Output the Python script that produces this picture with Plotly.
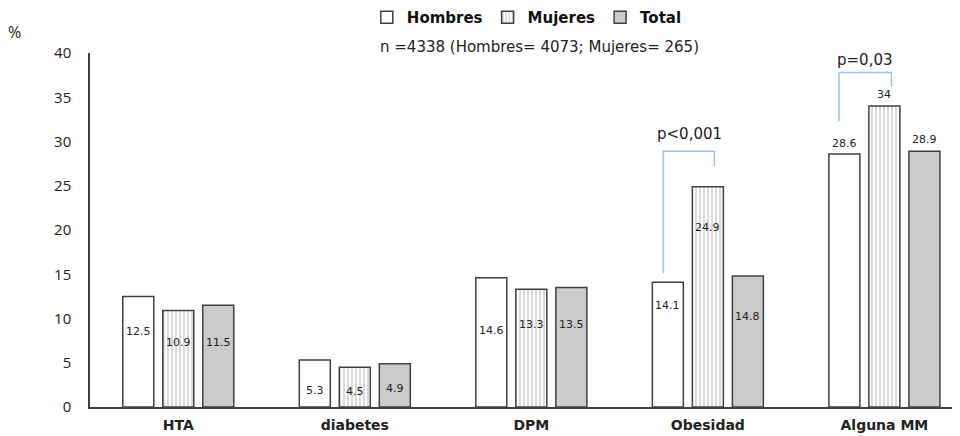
import plotly.graph_objects as go

# Datos
categorias = ["HTA", "diabetes", "DPM", "Obesidad", "Alguna MM"]
hombres = [12.5, 5.3, 14.6, 14.1, 28.6]
mujeres = [10.9, 4.5, 13.3, 24.9, 34]
total = [11.5, 4.9, 13.5, 14.8, 28.9]

# Altura (en %) donde aparece cada etiqueta de valor
lab_h = [8.5, 1.9, 8.6, 11.5, 29.8]
lab_m = [7.3, 1.7, 9.3, 20.3, 35.3]
lab_t = [7.3, 2.1, 9.3, 10.2, 30.2]

subtitulo = "n =4338 (Hombres= 4073; Mujeres= 265)"
EDGE = "#404040"

fig = go.Figure()
fig.add_trace(go.Bar(
    x=categorias, y=hombres, name="Hombres",
    marker=dict(color="white", line=dict(color=EDGE, width=1.5)),
))
fig.add_trace(go.Bar(
    x=categorias, y=mujeres, name="Mujeres",
    marker=dict(color="white", line=dict(color=EDGE, width=1.5),
                pattern=dict(shape="|", size=4, solidity=0.25, fgcolor="#666666")),
))
fig.add_trace(go.Bar(
    x=categorias, y=total, name="Total",
    marker=dict(color="#CBCBCB", line=dict(color=EDGE, width=1.5)),
))

# Etiquetas de valores
off = 0.2266
anns = []
for i, c in enumerate(categorias):
    for dx, val, ly in ((-off, hombres[i], lab_h[i]), (0, mujeres[i], lab_m[i]), (off, total[i], lab_t[i])):
        anns.append(dict(x=i + dx, y=ly, xref="x", yref="y", text=f"{val:g}",
                         showarrow=False, font=dict(size=11, color="#222", family="DejaVu Sans")))

# Significancia
anns.append(dict(x=2.895, y=30.9, xref="x", yref="y", text="p<0,001", showarrow=False,
                 font=dict(size=15, color="#222", family="DejaVu Sans")))
anns.append(dict(x=3.89, y=39.2, xref="x", yref="y", text="p=0,03", showarrow=False,
                 font=dict(size=15, color="#222", family="DejaVu Sans")))
anns.append(dict(x=0.52, y=1.017, xref="paper", yref="paper", text=subtitulo, showarrow=False,
                 xanchor="center", yanchor="middle",
                 font=dict(size=15, color="#222", family="DejaVu Sans")))
anns.append(dict(x=-0.087, y=1.06, xref="paper", yref="paper", text="%", showarrow=False,
                 xanchor="center", yanchor="middle",
                 font=dict(size=16, color="#222", family="Open Sans")))

BL = dict(color="#9DC3E6", width=1.5)
shapes = [
    dict(type="path", path="M 2.748,15.1 L 2.748,28.9 L 3.037,28.9 L 3.037,27.2",
         xref="x", yref="y", line=BL),
    dict(type="path", path="M 3.743,32.3 L 3.743,37.8 L 4.04,37.8 L 4.04,36.2",
         xref="x", yref="y", line=BL),
]

# la página tiene un margen de 8 px, se compensa en los márgenes
fig.update_layout(
    width=960, height=436,
    margin=dict(l=82, r=13, t=45, b=37, autoexpand=False),
    plot_bgcolor="white", paper_bgcolor="white",
    barmode="group", bargap=0.32, bargroupgap=0.225,
    legend=dict(orientation="h", x=0.505, xanchor="center", y=1.147, yref="paper",
                yanchor="top", font=dict(size=15, color="#111", family="DejaVu Sans", weight="bold"),
                itemwidth=30, tracegroupgap=0, bgcolor="rgba(0,0,0,0)"),
    annotations=anns, shapes=shapes,
    xaxis=dict(range=[-0.5, 4.4], showline=True, linecolor=EDGE, linewidth=1.5,
               showgrid=False, ticks="", ticklabelstandoff=4, automargin=False,
               tickfont=dict(size=14, color="#222", family="DejaVu Sans", weight="bold")),
    yaxis=dict(range=[0, 40], dtick=5, showline=True, linecolor=EDGE, linewidth=1.5,
               showgrid=False, zeroline=False, ticks="", ticklabelstandoff=14, automargin=False,
               tickfont=dict(size=15, color="#222", family="Open Sans")),
)

fig.write_html("out.html")
